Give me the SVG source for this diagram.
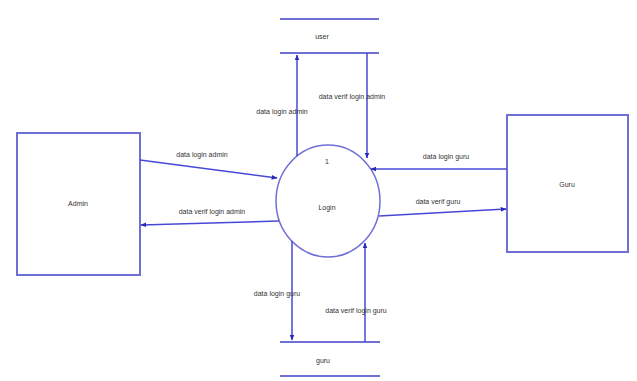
<svg xmlns="http://www.w3.org/2000/svg" width="637" height="381" viewBox="0 0 637 381">
<defs>
<style>
.box{fill:#fff;stroke:#6f6fd6;stroke-width:2}
.store{stroke:#6f6fd6;stroke-width:2}
.flow{stroke:#4848d8;stroke-width:1.5;fill:none;marker-end:url(#ah)}
.t{font-family:"Liberation Sans",Arial,sans-serif;font-size:7px;fill:#333;text-anchor:middle}
</style>
<marker id="ah" viewBox="0 0 10 10" refX="9" refY="5" markerWidth="6" markerHeight="6" orient="auto" markerUnits="userSpaceOnUse">
<path d="M0,1 L10,5 L0,9 Z" fill="#2a2ab8"/>
</marker>
</defs>
<rect width="637" height="381" fill="#fff"/>
<g id="admin">
<rect class="box" x="17" y="133" width="123" height="142"/>
<text class="t" x="78" y="206">Admin</text>
</g>
<g id="guru">
<rect class="box" x="507" y="115" width="121" height="137"/>
<text class="t" x="567" y="187">Guru</text>
</g>
<g id="login">
<ellipse cx="328" cy="201" rx="52" ry="56" fill="#fff" stroke="#6f6fd6" stroke-width="1.5"/>
<text class="t" x="327" y="164">1</text>
<text class="t" x="327" y="210">Login</text>
</g>
<g id="store-user">
<line class="store" x1="280" y1="19" x2="379" y2="19"/>
<line class="store" x1="280" y1="53" x2="379" y2="53"/>
<text class="t" x="322" y="39">user</text>
</g>
<g id="store-guru">
<line class="store" x1="280" y1="342" x2="380" y2="342"/>
<line class="store" x1="280" y1="376" x2="380" y2="376"/>
<text class="t" x="323" y="363">guru</text>
</g>
<g id="connectors">
<line class="flow" x1="140" y1="160" x2="277" y2="178"/>
<text class="t" x="202" y="157">data login admin</text>
<line class="flow" x1="279" y1="221" x2="141" y2="225"/>
<text class="t" x="212" y="214">data verif login admin</text>
<line class="flow" x1="507" y1="169" x2="371" y2="169"/>
<text class="t" x="446" y="159">data login guru</text>
<line class="flow" x1="379" y1="216" x2="506" y2="209"/>
<text class="t" x="438" y="204">data verif guru</text>
<line class="flow" x1="297" y1="156" x2="297" y2="55"/>
<text class="t" x="282" y="114">data login admin</text>
<line class="flow" x1="367" y1="53" x2="367" y2="158"/>
<text class="t" x="352" y="99">data verif login admin</text>
<line class="flow" x1="292" y1="241" x2="292" y2="340"/>
<text class="t" x="277" y="296">data login guru</text>
<line class="flow" x1="365" y1="342" x2="365" y2="243"/>
<text class="t" x="356" y="313">data verif login guru</text>
</g>
</svg>
